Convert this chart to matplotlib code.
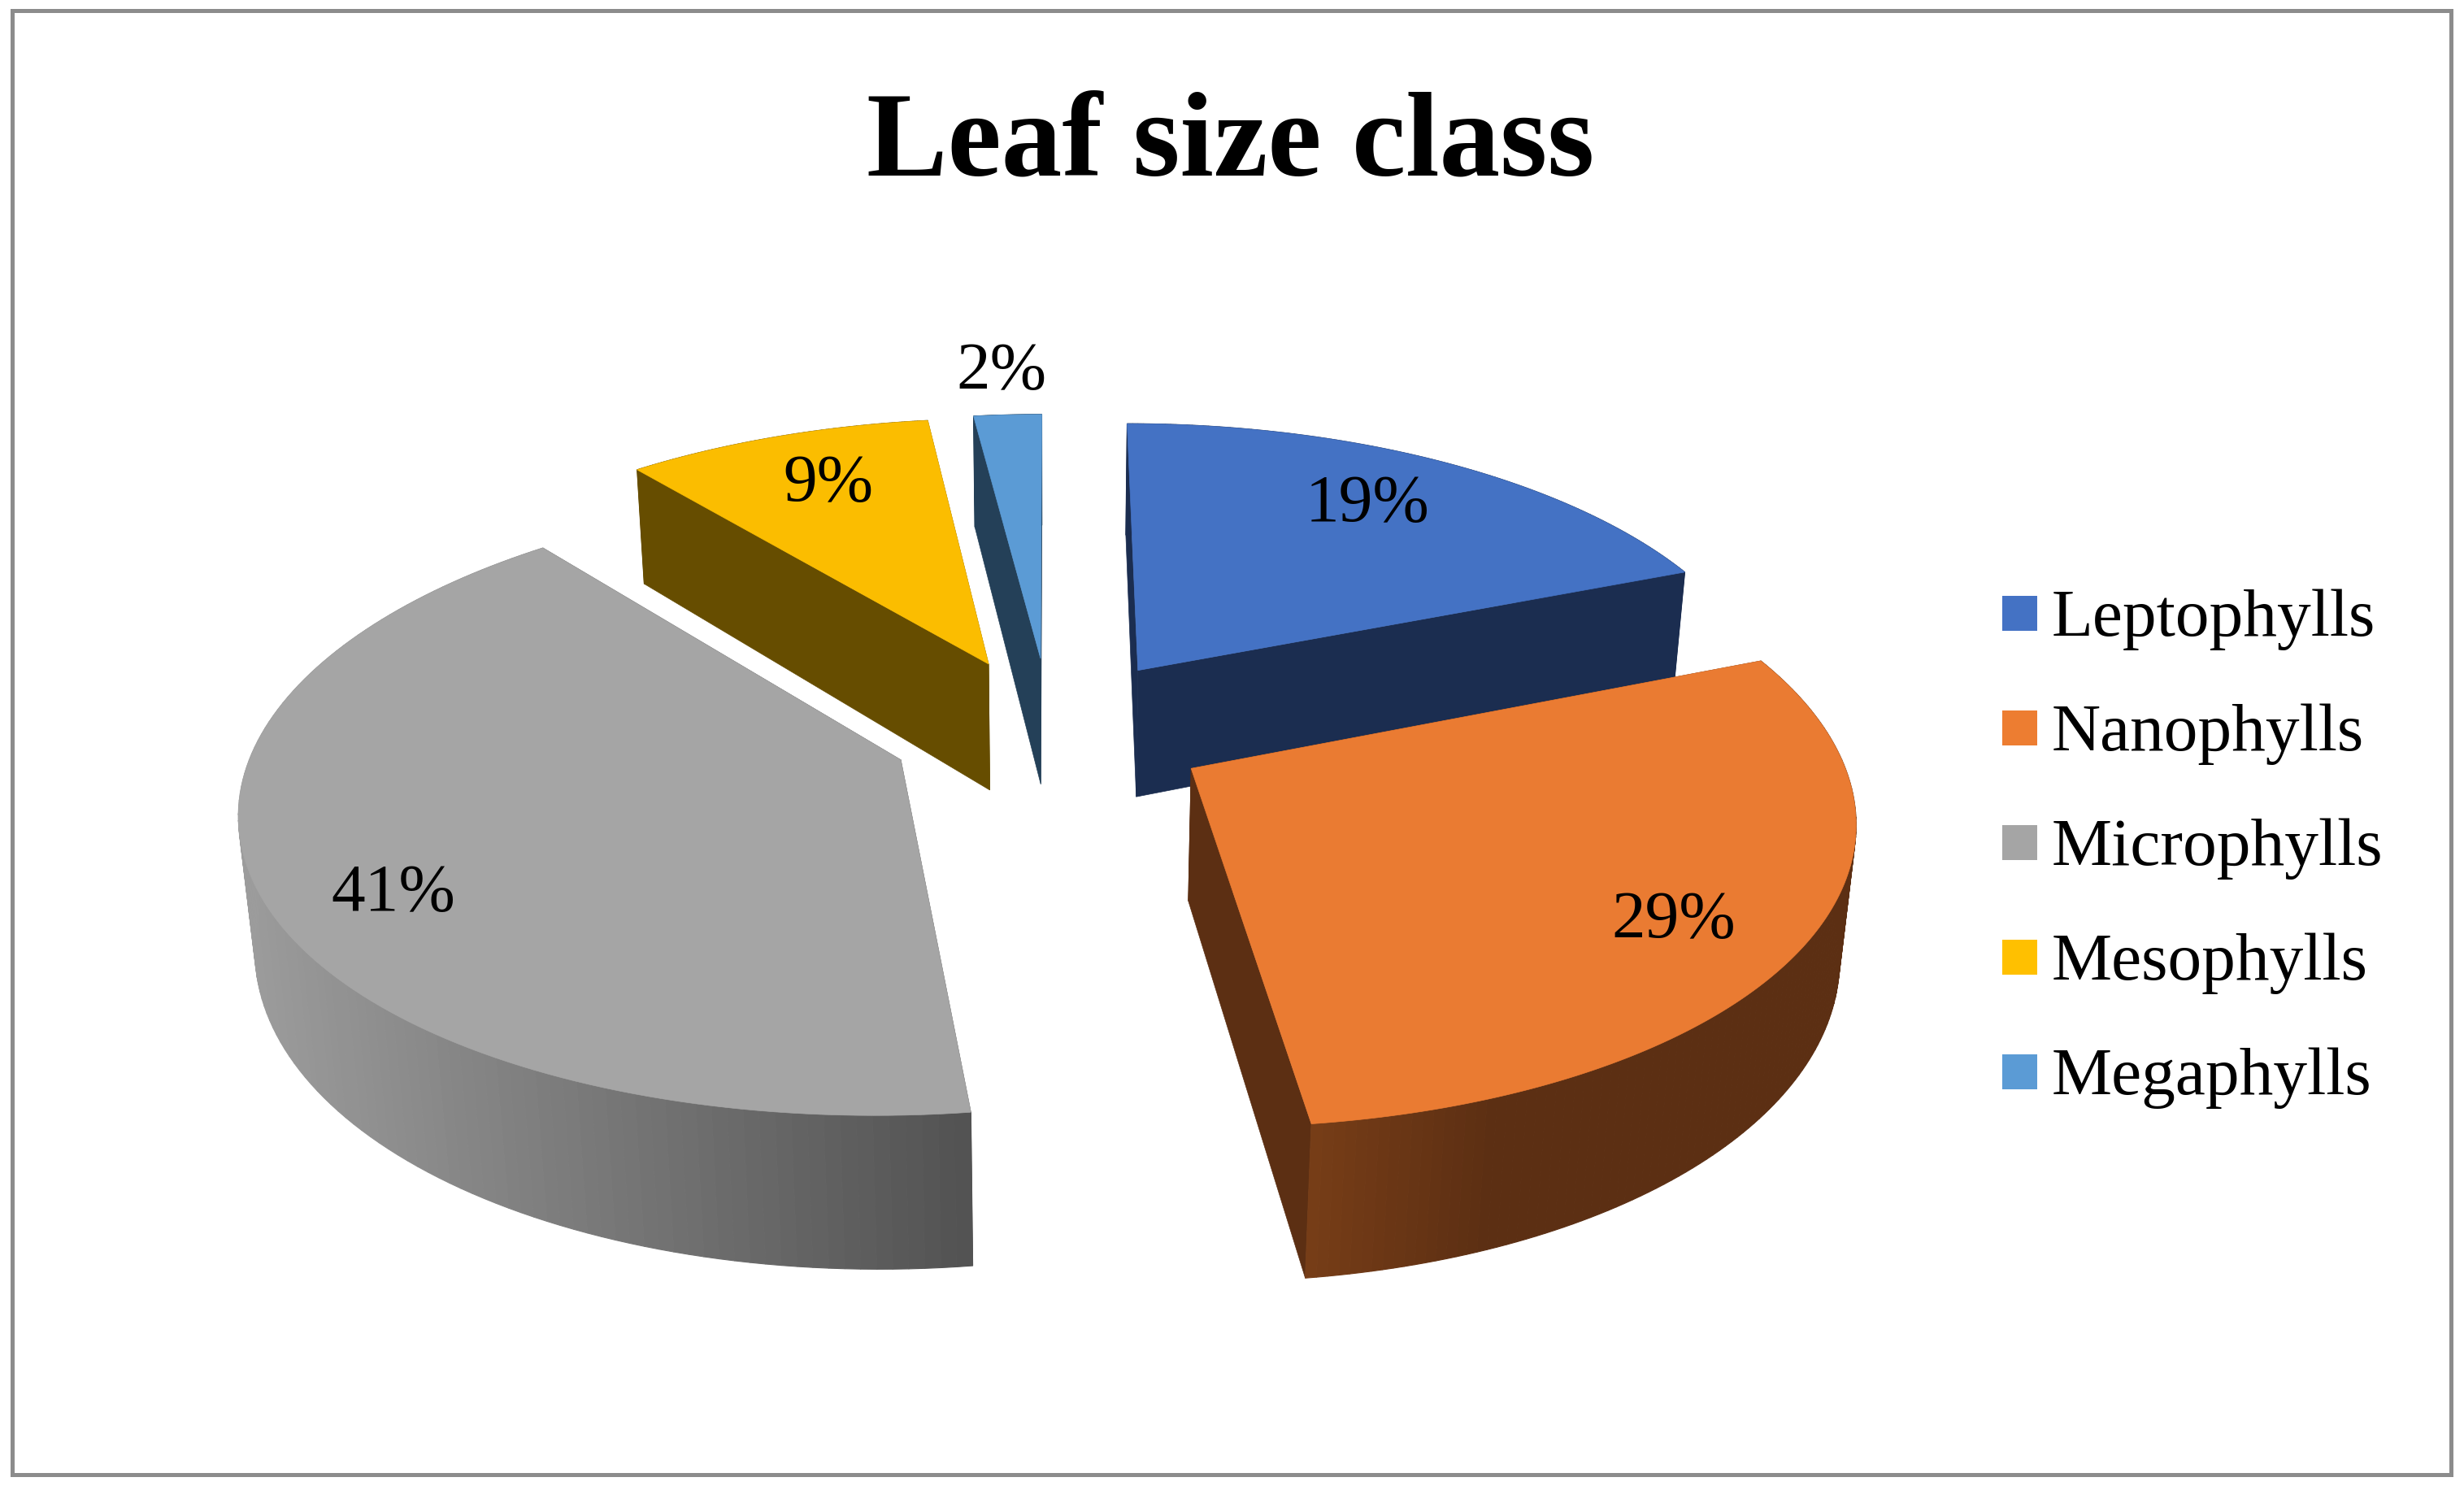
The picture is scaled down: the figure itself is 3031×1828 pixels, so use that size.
import matplotlib
matplotlib.use("Agg")
import matplotlib.pyplot as plt
import numpy as np
from matplotlib.colors import to_rgb
from matplotlib.patches import Rectangle

plt.rcParams['font.family'] = ['Liberation Serif', 'DejaVu Serif']

title = "Leaf size class"
categories = ["Leptophylls", "Nanophylls", "Microphylls", "Mesophylls", "Megaphylls"]
values = [19, 29, 41, 9, 2]

top_colours = ["#4472C4", "#EA7B32", "#A5A5A5", "#FBBD00", "#5B9BD5"]
legend_colours = ["#4472C4", "#ED7D31", "#A5A5A5", "#FFC000", "#5B9BD5"]
side_left = ["#1B2D50", "#773D17", "#9C9C9C", "#664D00", "#244058"]
side_right = ["#1B2D50", "#5C2F13", "#525252", "#664D00", "#244058"]
side_fade = [1.0, 3.0, 1.0, 1.0, 1.0]

# back to front
draw_order = [4, 3, 0, 2, 1]

# centres of the percentage labels, in pixels
label_x = [1682, 2059, 484, 1019, 1232]
label_y = [621, 1133, 1100, 596, 458]

# pie projection, fitted by eye to the reference
CX, CY = 1292.0, 898.0
SCALE_X, SCALE_Y = 790.0, 365.0
THICK = 160.0
PERSP_X, PERSP_Y, PERSP_BOTTOM = 0.145, 0.14, 0.02
EXPLODE = 0.25


def project(px, py, bottom=False):
    # pie plane (radius 1) to figure pixels, with the far side smaller
    d = 1.0 if bottom else 0.0
    wx = 1.0 + PERSP_X * py + PERSP_BOTTOM * d
    wy = 1.0 + PERSP_Y * py
    return CX + SCALE_X * px / wx, CY + (-SCALE_Y * py + THICK * d) / wy


def blend(c0, c1, f):
    c0, c1 = np.array(to_rgb(c0)), np.array(to_rgb(c1))
    return tuple(c0 + (c1 - c0) * min(f, 1.0))


def draw_wedge(ax, start, stop, idx):
    mid = 0.5 * (start + stop)
    ox, oy = EXPLODE * np.sin(mid), EXPLODE * np.cos(mid)

    theta = np.linspace(start, stop, 121)
    rim_x = ox + np.sin(theta)
    rim_y = oy + np.cos(theta)
    top_x, top_y = project(rim_x, rim_y)
    bot_x, bot_y = project(rim_x, rim_y, bottom=True)
    apex_top = project(ox, oy)
    apex_bot = project(ox, oy, bottom=True)

    left = side_left[idx]
    right = side_right[idx]

    # the two cut faces
    for i in (0, -1):
        ax.fill([apex_top[0], top_x[i], bot_x[i], apex_bot[0]],
                [apex_top[1], top_y[i], bot_y[i], apex_bot[1]],
                facecolor=right, edgecolor=right, linewidth=0.5, zorder=1)

    # outer wall, cut in strips for the shading
    x0, x1 = top_x.min(), top_x.max()
    for i in range(len(theta) - 1):
        f = (0.5 * (top_x[i] + top_x[i + 1]) - x0) / (x1 - x0) * side_fade[idx]
        colour = blend(left, right, f)
        ax.fill([top_x[i], top_x[i + 1], bot_x[i + 1], bot_x[i]],
                [top_y[i], top_y[i + 1], bot_y[i + 1], bot_y[i]],
                facecolor=colour, edgecolor=colour, linewidth=0.8, zorder=1)

    ax.fill(np.r_[apex_top[0], top_x], np.r_[apex_top[1], top_y],
            facecolor=top_colours[idx], edgecolor=top_colours[idx], linewidth=0.5, zorder=1)


fig = plt.figure(figsize=(30.31, 18.28), dpi=100, facecolor="white")
ax = fig.add_axes([0, 0, 1, 1])
ax.set_xlim(0, 3031)
ax.set_ylim(1828, 0)
ax.axis("off")

ax.add_patch(Rectangle((14.5, 12.5), 3000, 1801, facecolor="none", edgecolor="#8C8C8C", linewidth=3.6))

edges = 2 * np.pi * np.r_[0, np.cumsum(values)] / np.sum(values)
for n in draw_order:
    draw_wedge(ax, edges[n], edges[n + 1], n)

for n, v in enumerate(values):
    ax.text(label_x[n], label_y[n], f"{v}%", fontsize=60, ha="center", va="center", color="black", zorder=3)

ax.text(1514, 180, title, fontsize=107.5, fontweight="bold", ha="center", va="center", color="black", zorder=3)

# legend
for n, name in enumerate(categories):
    base = 781.5 + 141.1 * n
    ax.add_patch(Rectangle((2463, base - 48.5), 43, 43, facecolor=legend_colours[n], edgecolor="none"))
    ax.text(2524, base, name, fontsize=60, ha="left", va="baseline", color="black")

fig.savefig("out.png", dpi=100)
